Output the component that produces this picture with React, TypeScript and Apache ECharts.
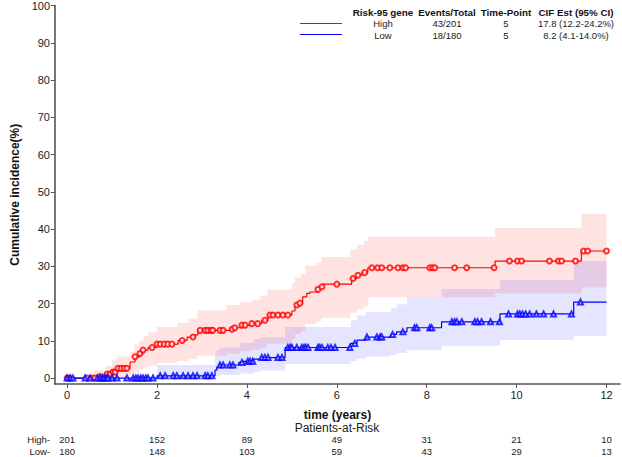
import React, { useEffect, useRef } from "react";
import * as echarts from "echarts";

const END_T = 12;
const xTicks = [0, 2, 4, 6, 8, 10, 12];
const yTicks = [0, 10, 20, 30, 40, 50, 60, 70, 80, 90, 100];
const riskHigh = [201, 152, 89, 49, 31, 21, 10];
const riskLow = [180, 148, 103, 59, 43, 29, 13];

const legendHeaders = ["Risk-95 gene", "Events/Total", "Time-Point", "CIF Est (95% CI)"];
const legendHigh = ["High", "43/201", "5", "17.8 (12.2-24.2%)"];
const legendLow = ["Low", "18/180", "5", "8.2 (4.1-14.0%)"];

// step functions: [time, cumulative incidence %]
const highSteps: [number, number][] = [
  [0, 0], [0.64, 0.4], [0.84, 1.1], [0.98, 1.6], [1.11, 2.6], [1.4, 4.3], [1.51, 5.7],
  [1.62, 6.6], [1.69, 7.5], [1.8, 8.2], [1.98, 9.1], [2.47, 10.1], [2.67, 11.0],
  [2.84, 11.6], [2.91, 12.8], [3.62, 13.1], [3.69, 13.5], [3.89, 14.2], [4.11, 14.6],
  [4.33, 15.5], [4.47, 16.9], [5.0, 18.0], [5.07, 19.6], [5.18, 20.1], [5.24, 21.8],
  [5.33, 22.7], [5.4, 23.1], [5.56, 23.8], [5.62, 24.5], [5.69, 25.2], [6.33, 26.7],
  [6.44, 27.6], [6.56, 28.3], [6.69, 29.6], [9.52, 31.4], [11.44, 34.1],
];
const lowSteps: [number, number][] = [
  [0, 0], [2.0, 0.6], [3.29, 2.1], [3.33, 2.9], [3.38, 3.5], [3.82, 4.2], [3.9, 4.5],
  [4.15, 5.1], [4.3, 5.5], [4.85, 8.2], [6.31, 9.3], [6.45, 10.2], [6.65, 11.0],
  [7.2, 11.7], [7.33, 12.4], [7.56, 13.5], [8.33, 15.1], [9.63, 17.2], [11.27, 20.4],
];

// censoring times
const highCensor = [
  0.0, 0.05, 0.44, 0.56, 0.62, 0.73, 0.89, 0.96, 1.02, 1.07, 1.13, 1.2, 1.27, 1.33, 1.51,
  1.62, 1.69, 1.89, 2.0, 2.07, 2.16, 2.24, 2.33, 2.56, 2.8, 2.96, 3.07, 3.13, 3.2, 3.24,
  3.4, 3.47, 3.67, 3.73, 3.89, 3.96, 4.11, 4.24, 4.4, 4.51, 4.58, 4.69, 4.8, 4.91, 5.11,
  5.18, 5.58, 5.67, 6.0, 6.36, 6.47, 6.62, 6.78, 6.91, 7.0, 7.18, 7.36, 7.47, 7.53, 8.07,
  8.13, 8.18, 8.62, 8.89, 9.5, 9.84, 10.02, 10.11, 10.73, 10.93, 11.0, 11.31, 11.49,
  11.58, 12.0,
];
const lowCensor = [
  0.0, 0.07, 0.13, 0.4, 0.51, 0.67, 0.73, 0.78, 0.82, 0.87, 0.91, 1.0, 1.11, 1.33, 1.47,
  1.53, 1.58, 1.64, 1.69, 1.75, 1.8, 1.91, 2.07, 2.18, 2.36, 2.44, 2.58, 2.69, 2.8, 2.89,
  3.07, 3.13, 3.22, 3.4, 3.47, 3.62, 3.69, 3.89, 4.02, 4.07, 4.13, 4.33, 4.4, 4.47, 4.69,
  4.78, 4.91, 4.96, 5.0, 5.11, 5.22, 5.27, 5.31, 5.36, 5.58, 5.62, 5.67, 5.8, 5.87, 5.96,
  6.29, 6.4, 6.67, 6.89, 6.96, 7.0, 7.24, 7.47, 7.73, 7.78, 8.07, 8.11, 8.56, 8.62, 8.67,
  8.78, 9.07, 9.13, 9.22, 9.42, 9.62, 9.82, 10.02, 10.07, 10.13, 10.2, 10.29, 10.44,
  10.6, 10.82, 11.22, 11.42,
];

// 95% CI bands: [start time, lower, upper] holding until next start
const highBand: [number, number, number][] = [
  [0.6, 0, 2.0], [0.85, 0, 3.2], [1.0, 0, 4.8], [1.1, 0.3, 5.8], [1.4, 0.8, 7.0],
  [1.5, 1.5, 9.0], [1.6, 2.2, 10.0], [1.7, 2.8, 11.2], [1.8, 3.3, 12.3], [2.0, 4.0, 13.7],
  [2.45, 4.6, 14.8], [2.7, 5.2, 16.0], [2.9, 6.0, 18.2], [3.55, 6.5, 19.6],
  [3.85, 7.2, 20.4], [4.1, 7.6, 21.0], [4.3, 8.2, 22.0], [4.45, 9.2, 23.8],
  [5.0, 10.5, 25.5], [5.07, 11.8, 27.0], [5.2, 12.6, 28.0], [5.3, 14.5, 30.2],
  [5.55, 15.2, 31.0], [5.65, 16.2, 32.5], [6.3, 17.5, 34.5], [6.45, 18.5, 35.8],
  [6.6, 19.2, 36.8], [6.7, 21.7, 37.9], [9.52, 22.7, 40.3], [11.44, 24.3, 44.1],
];
const lowBand: [number, number, number][] = [
  [2.0, 0, 3.5], [3.29, 0.2, 6.5], [3.33, 0.5, 7.5], [3.4, 0.8, 8.2], [3.85, 1.2, 9.5],
  [4.15, 1.6, 10.5], [4.3, 2.0, 11.0], [4.85, 3.8, 13.7], [6.31, 4.5, 15.5],
  [6.45, 5.2, 16.8], [6.65, 5.8, 17.8], [7.2, 6.2, 18.8], [7.33, 6.7, 19.8],
  [7.56, 7.5, 21.7], [8.33, 8.7, 23.9], [9.63, 10.2, 26.3], [11.27, 11.3, 31.4],
];

const RED = "#ff0000";
const BLUE = "#0000ff";
const AXIS = "#555555";
const SANS = "'Liberation Sans', Arial, sans-serif";

function stepAt(steps: [number, number][], t: number): number {
  let v = steps[0][1];
  for (const [s, val] of steps) if (s <= t) v = val;
  return v;
}

function lineData(steps: [number, number][]) {
  return [...steps, [END_T, steps[steps.length - 1][1]]];
}

function bandSeries(band: [number, number, number][], fill: string) {
  return {
    type: "custom",
    z: 1,
    silent: true,
    data: [[band[0][0], band[0][1]]],
    renderItem: (_params: any, api: any) => {
      const upper: number[][] = [];
      const lower: number[][] = [];
      band.forEach((b, i) => {
        const t0 = b[0];
        const t1 = i + 1 < band.length ? band[i + 1][0] : END_T;
        upper.push(api.coord([t0, b[2]]), api.coord([t1, b[2]]));
        lower.push(api.coord([t0, b[1]]), api.coord([t1, b[1]]));
      });
      const points = [...upper, ...lower.reverse()];
      return { type: "polygon", shape: { points }, style: { fill } };
    },
  };
}

function txt(text: string, x: number, y: number, opts: any = {}) {
  return {
    type: "text",
    x,
    y,
    style: {
      text,
      fontSize: opts.fontSize ?? 9.5,
      fontFamily: SANS,
      fontWeight: opts.fontWeight ?? "normal",
      lineHeight: opts.lineHeight ?? 9,
      fill: opts.fill ?? "#222",
      textAlign: opts.align ?? "center",
      textVerticalAlign: "middle",
    },
  };
}

export default function App() {
  const ref = useRef<HTMLDivElement>(null);
  useEffect(() => {
    if (!ref.current) return;
    const chart = echarts.init(ref.current, undefined, { renderer: "svg" });
    const xMin = -0.27;
    const xMax = 12.3;
    const riskAxis = (offset: number, values: number[]) => ({
      type: "value",
      position: "bottom",
      min: xMin,
      max: xMax,
      offset,
      axisLine: { show: false },
      axisTick: { show: false },
      splitLine: { show: false },
      axisLabel: {
        customValues: xTicks,
        margin: 0,
        fontSize: 9.5,
        lineHeight: 9,
        fontFamily: SANS,
        color: "#222",
        formatter: (v: number) => {
          const i = xTicks.indexOf(Math.round(v));
          return i >= 0 ? String(values[i]) : "";
        },
      },
    });

    const legendCols = [383, 447, 506, 576];
    const graphic: any[] = [];
    legendHeaders.forEach((h, i) =>
      graphic.push(txt(h, legendCols[i], 12, { fontWeight: "bold", fill: "#111", fontSize: 9.8 }))
    );
    legendHigh.forEach((h, i) => graphic.push(txt(h, legendCols[i], 23.5)));
    legendLow.forEach((h, i) => graphic.push(txt(h, legendCols[i], 35)));
    graphic.push(
      { type: "line", shape: { x1: 300, y1: 23.5, x2: 342, y2: 23.5 }, style: { stroke: RED, lineWidth: 1 } },
      { type: "line", shape: { x1: 300, y1: 34.5, x2: 342, y2: 34.5 }, style: { stroke: BLUE, lineWidth: 1 } },
      txt("Patients-at-Risk", 337, 428, { fontSize: 12, lineHeight: 12 }),
      txt("High-", 50, 439.5, { align: "right" }),
      txt("Low-", 50, 451.5, { align: "right" })
    );

    chart.setOption({
      animation: false,
      grid: { left: 55, right: 2, top: 5, bottom: 73, containLabel: false },
      xAxis: [
        {
          type: "value",
          min: xMin,
          max: xMax,
          name: "time (years)",
          nameLocation: "middle",
          nameGap: 25,
          nameTextStyle: { fontSize: 12, fontWeight: "bold", fontFamily: SANS, color: "#111", lineHeight: 12 },
          axisLine: { onZero: false, lineStyle: { color: AXIS, width: 1.6 } },
          axisTick: { customValues: xTicks, length: 4, lineStyle: { color: AXIS, width: 1 } },
          axisLabel: { customValues: xTicks, margin: 5, fontSize: 11, fontFamily: SANS, color: "#222" },
          splitLine: { show: false },
        },
        riskAxis(51, riskHigh),
        riskAxis(63, riskLow),
      ],
      yAxis: {
        type: "value",
        min: -1.6,
        max: 100,
        name: "Cumulative incidence(%)",
        nameLocation: "middle",
        nameRotate: 90,
        nameGap: 30,
        nameTextStyle: { fontSize: 12, fontWeight: "bold", fontFamily: SANS, color: "#111" },
        axisLine: { show: true, onZero: false, lineStyle: { color: AXIS, width: 1.6 } },
        axisTick: { show: true, customValues: yTicks, length: 4, lineStyle: { color: AXIS, width: 1 } },
        axisLabel: { customValues: yTicks, margin: 5, fontSize: 11, fontFamily: SANS, color: "#222" },
        splitLine: { show: false },
      },
      graphic,
      series: [
        bandSeries(highBand, "rgba(255,0,0,0.11)"),
        bandSeries(lowBand, "rgba(0,0,255,0.10)"),
        {
          type: "line",
          z: 3,
          step: "end",
          data: lineData(highSteps),
          symbol: "none",
          lineStyle: { color: RED, width: 1.2 },
          silent: true,
        },
        {
          type: "line",
          z: 3,
          step: "end",
          data: lineData(lowSteps),
          symbol: "none",
          lineStyle: { color: BLUE, width: 1.2 },
          silent: true,
        },
        {
          type: "scatter",
          z: 4,
          symbol: "emptyCircle",
          symbolSize: 5,
          itemStyle: { color: RED, borderColor: RED, borderWidth: 0.9 },
          data: highCensor.map((t) => [t, stepAt(highSteps, t)]),
          silent: true,
        },
        {
          type: "scatter",
          z: 4,
          symbol: "emptyTriangle",
          symbolSize: 5,
          itemStyle: { color: BLUE, borderColor: BLUE, borderWidth: 0.9 },
          data: lowCensor.map((t) => [t, stepAt(lowSteps, t)]),
          silent: true,
        },
      ],
    });
    return () => chart.dispose();
  }, []);
  return (
    <div
      ref={ref}
      style={{ position: "fixed", left: 0, top: 0, width: 622, height: 457, background: "#fff" }}
    />
  );
}
